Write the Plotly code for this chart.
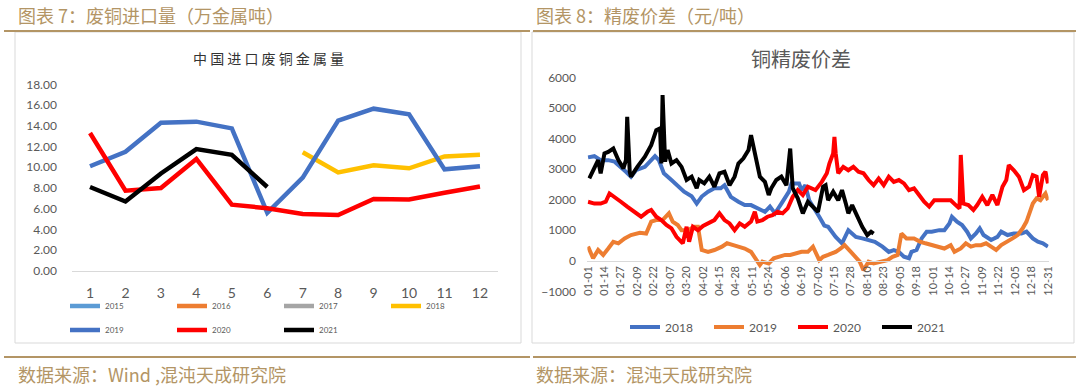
import plotly.graph_objects as go
import pandas as pd

W, H = 1080, 388

# ---------------- Left chart: 中国进口废铜金属量 (万金属吨) ----------------
months = list(range(1, 13))
imp_2015 = [None] * 12
imp_2016 = [None] * 12
imp_2017 = [None] * 12
imp_2018 = [None, None, None, None, None, None, 11.45, 9.5, 10.2, 9.9, 11.05, 11.2]
imp_2019 = [10.1, 11.5, 14.3, 14.4, 13.75, 5.6, 9.0, 14.5, 15.65, 15.1, 9.8, 10.1]
imp_2020 = [13.3, 7.75, 8.0, 10.8, 6.4, 6.05, 5.5, 5.4, 6.95, 6.9, 7.55, 8.15]
imp_2021 = [8.1, 6.7, 9.4, 11.75, 11.2, 8.1, None, None, None, None, None, None]

# ---------------- Right chart: 铜精废价差 (元/吨) ----------------
day_labels = pd.date_range("2019-01-01", "2019-12-31").strftime("%m-%d").tolist()
tick_labels = ["01-01", "01-14", "01-27", "02-09", "02-22", "03-07", "03-20", "04-02",
               "04-15", "04-28", "05-11", "05-24", "06-06", "06-19", "07-02", "07-15",
               "07-28", "08-10", "08-23", "09-05", "09-18", "10-01", "10-14", "10-27",
               "11-09", "11-22", "12-05", "12-18", "12-31"]

# day-of-year index (0 = 01-01) and spread value
days_2018 = [0, 5, 10, 16, 21, 26, 30, 34, 38, 45, 53, 56, 60, 66, 71, 76, 82, 86, 90, 95,
             100, 105, 108, 113, 119, 124, 129, 135, 140, 144, 148, 153, 159, 161, 167, 169,
             172, 175, 180, 183, 187, 190, 196, 201, 206, 212, 217, 222, 227, 233, 238, 242,
             246, 250, 254, 256, 260, 264, 268, 272, 278, 282, 286, 288, 292, 296, 300, 303,
             307, 310, 313, 319, 324, 327, 332, 337, 343, 347, 352, 356, 360, 364]
spread_2018 = [3380, 3420, 3290, 3290, 3240, 3070, 2910, 2750, 2960, 3070, 3420, 3290, 2860,
               2640, 2470, 2260, 2110, 1870, 2100, 2260, 2370, 2370, 2470, 2090, 1930, 1820,
               1820, 1710, 1600, 1770, 1550, 1870, 2260, 2530, 2530, 2310, 2470, 1980, 1660,
               1440, 1150, 1110, 780, 570, 1000, 780, 730, 680, 620, 460, 290, 350, 290, 130,
               80, 290, 350, 730, 950, 950, 1000, 1000, 1220, 1440, 1280, 1170, 950, 730, 890,
               1060, 840, 680, 780, 950, 840, 890, 890, 950, 730, 620, 570, 460]

days_2019 = [0, 4, 8, 12, 16, 20, 24, 29, 34, 41, 46, 50, 54, 59, 64, 67, 71, 74, 79, 84, 87,
             90, 95, 100, 106, 110, 115, 119, 124, 129, 133, 136, 138, 143, 147, 151, 156, 160,
             164, 169, 174, 178, 183, 186, 190, 196, 200, 203, 208, 211, 215, 218, 222, 226,
             231, 237, 241, 245, 248, 252, 258, 263, 267, 272, 278, 282, 287, 290, 295, 299,
             303, 307, 311, 315, 319, 323, 327, 332, 336, 340, 344, 347, 349, 352, 355, 358,
             361, 362, 364]
spread_2019 = [460, 80, 350, 190, 400, 620, 570, 730, 840, 915, 890, 1280, 1330, 1330, 1550,
               1280, 1170, 1000, 1000, 1110, 1110, 350, 290, 350, 460, 570, 510, 460, 400, 290,
               20, -140, -30, -90, 80, 130, 190, 190, 240, 290, 290, 460, 20, 130, 190, 290,
               400, 510, 290, 130, -30, -310, -30, -90, -30, 20, 130, 190, 890, 730, 730, 620,
               570, 510, 460, 400, 510, 290, 400, 570, 460, 510, 510, 570, 460, 350, 510, 620,
               730, 840, 1060, 1280, 1550, 1870, 2040, 1980, 2150, 2200, 1980]

days_2020 = [0, 5, 10, 14, 17, 21, 26, 31, 37, 42, 47, 50, 54, 58, 62, 66, 70, 72, 75, 78, 80,
             83, 87, 91, 95, 100, 104, 108, 112, 116, 120, 124, 129, 132, 134, 138, 142, 146,
             150, 154, 158, 162, 166, 170, 174, 180, 185, 189, 191, 194, 195, 196, 198, 202,
             206, 210, 214, 218, 222, 226, 230, 234, 238, 242, 246, 250, 254, 258, 262, 266,
             270, 274, 280, 287, 291, 294, 295, 297, 301, 305, 308, 312, 316, 320, 324, 328,
             331, 333, 337, 341, 345, 349, 352, 355, 357, 360, 362, 364]
spread_2020 = [1930, 1870, 1870, 1930, 2200, 2090, 1930, 1770, 1600, 1440, 1600, 1660, 1440,
               1330, 1170, 1060, 780, 680, 570, 1110, 620, 1110, 1000, 1140, 1220, 1330, 1550,
               1330, 1220, 1000, 1220, 1110, 1280, 1600, 1280, 1330, 1440, 1490, 1600, 1550,
               1710, 2090, 2310, 2150, 2420, 2310, 2580, 2860, 3180, 3510, 4050, 3510, 2860,
               3070, 2960, 3070, 2910, 2860, 2640, 2470, 2690, 2470, 2750, 2580, 2640, 2530,
               2310, 2370, 2150, 1930, 1770, 1980, 1980, 1980, 1820, 1710, 3460, 1870, 1820,
               1660, 1820, 2090, 1820, 2150, 1820, 2420, 2640, 3130, 2960, 2750, 2310, 2420,
               2800, 2750, 2090, 2800, 2910, 2530]

days_2021 = [1, 5, 8, 10, 13, 16, 20, 24, 28, 30, 31, 33, 34, 39, 45, 50, 54, 57, 58, 59, 61,
             63, 66, 70, 74, 78, 82, 86, 88, 92, 96, 100, 104, 108, 112, 116, 119, 123, 127,
             129, 132, 136, 140, 143, 145, 149, 153, 157, 160, 162, 166, 170, 174, 178, 182,
             186, 188, 190, 194, 198, 201, 204, 206, 209, 213, 217, 221, 224, 226]
spread_2021 = [2690, 3020, 3290, 2860, 3510, 3560, 3670, 3290, 3020, 3290, 4710, 2910, 2750,
               3070, 3400, 3780, 4270, 4330, 3180, 5420, 3240, 3620, 3180, 3290, 3070, 2640,
               2750, 2370, 2640, 2530, 2750, 2420, 2860, 2910, 2470, 2750, 3180, 3350, 3620,
               4110, 3560, 2750, 2580, 2150, 2370, 2640, 2750, 2470, 3670, 2370, 2040, 1550,
               1930, 1770, 1600, 2420, 2470, 1980, 2260, 1980, 2310, 1870, 1550, 1820, 1440,
               1110, 840, 950, 890]

# ---------------- styling ----------------
GOLD = "#B39565"
GRID = "#D9D9D9"
TXT = "#595959"
NUMFONT = "Lato, Liberation Sans, sans-serif"
CJK = "Noto Sans CJK SC"


def fx(p):
    return p / W


def fy(p):
    return 1 - p / H


fig = go.Figure()

left_series = [
    ("2015", imp_2015, "#5B9BD5", "legend"),
    ("2016", imp_2016, "#ED7D31", "legend"),
    ("2017", imp_2017, "#A5A5A5", "legend"),
    ("2018", imp_2018, "#FFC000", "legend"),
    ("2019", imp_2019, "#4472C4", "legend2"),
    ("2020", imp_2020, "#FF0000", "legend2"),
    ("2021", imp_2021, "#000000", "legend2"),
]
for name, vals, col, lg in left_series:
    fig.add_trace(go.Scatter(x=months, y=vals, mode="lines", name=name,
                             line=dict(color=col, width=4.5), xaxis="x", yaxis="y",
                             legend=lg, showlegend=True, hoverinfo="skip"))

right_series = [
    ("2018", days_2018, spread_2018, "#4472C4"),
    ("2019", days_2019, spread_2019, "#ED7D31"),
    ("2020", days_2020, spread_2020, "#FF0000"),
    ("2021", days_2021, spread_2021, "#000000"),
]
for name, dd, vals, col in right_series:
    fig.add_trace(go.Scatter(x=[day_labels[d] for d in dd], y=vals, mode="lines", name=name,
                             line=dict(color=col, width=4), xaxis="x2", yaxis="y2",
                             legend="legend3", hoverinfo="skip"))

fig.update_layout(
    width=W, height=H, autosize=False,
    margin=dict(l=0, r=0, t=0, b=0, pad=0, autoexpand=False),
    paper_bgcolor="white", plot_bgcolor="rgba(0,0,0,0)",
    showlegend=True,
    xaxis=dict(domain=[fx(72.3), fx(497.7)], range=[0.5, 12.5], tickvals=months,
               showgrid=False, zeroline=False, showline=True, linecolor=GRID, linewidth=1,
               ticks="outside", ticklen=9, tickcolor="rgba(0,0,0,0)", automargin=False,
               tickfont=dict(family=NUMFONT, size=14, color=TXT), anchor="y", fixedrange=True),
    yaxis=dict(domain=[fy(271), fy(84.3)], range=[0, 18], dtick=2, tickformat=".2f",
               showgrid=False, zeroline=False, showline=False, automargin=False,
               ticks="outside", ticklen=12, tickcolor="rgba(0,0,0,0)",
               tickfont=dict(family=NUMFONT, size=12, color=TXT), anchor="x", fixedrange=True),
    xaxis2=dict(domain=[fx(587.4), fx(1048.6)], type="category", categoryorder="array",
                categoryarray=day_labels, range=[-0.5, 364.5], tickvals=tick_labels,
                ticktext=tick_labels, tickangle=-90, automargin=False,
                showgrid=False, zeroline=False, showline=True, linecolor=GRID, linewidth=1,
                ticks="", anchor="free", position=fy(260.7),
                tickfont=dict(family=NUMFONT, size=11, color=TXT), fixedrange=True),
    yaxis2=dict(domain=[fy(291.3), fy(77.3)], range=[-1000, 6000], dtick=1000,
                showgrid=False, zeroline=False, showline=False, automargin=False,
                ticks="outside", ticklen=8, tickcolor="rgba(0,0,0,0)",
                tickfont=dict(family=NUMFONT, size=12, color=TXT), anchor="x2", fixedrange=True),
    legend=dict(orientation="h", x=fx(65), y=fy(306), xanchor="left", yanchor="middle",
                entrywidth=62, font=dict(family=NUMFONT, size=8, color=TXT),
                bgcolor="rgba(0,0,0,0)", itemclick=False, itemdoubleclick=False),
    legend2=dict(orientation="h", x=fx(65), y=fy(330), xanchor="left", yanchor="middle",
                 entrywidth=62, font=dict(family=NUMFONT, size=8, color=TXT),
                 bgcolor="rgba(0,0,0,0)", itemclick=False, itemdoubleclick=False),
    legend3=dict(orientation="h", x=fx(625), y=fy(327), xanchor="left", yanchor="middle",
                 entrywidth=39, font=dict(family=NUMFONT, size=12, color=TXT),
                 bgcolor="rgba(0,0,0,0)", itemclick=False, itemdoubleclick=False),
)

shapes = [
    # chart frames
    dict(type="rect", xref="paper", yref="paper", x0=fx(15), x1=fx(521), y0=fy(343), y1=fy(32),
         line=dict(color=GRID, width=1), layer="below"),
    dict(type="rect", xref="paper", yref="paper", x0=fx(532), x1=fx(1074), y0=fy(343), y1=fy(32),
         line=dict(color=GRID, width=1), layer="below"),
    # header / footer rules
    dict(type="line", xref="paper", yref="paper", x0=fx(4), x1=fx(530), y0=fy(31), y1=fy(31),
         line=dict(color=GOLD, width=2)),
    dict(type="line", xref="paper", yref="paper", x0=fx(533), x1=fx(1076), y0=fy(31), y1=fy(31),
         line=dict(color=GOLD, width=2)),
    dict(type="line", xref="paper", yref="paper", x0=fx(4), x1=fx(530), y0=fy(357), y1=fy(357),
         line=dict(color=GOLD, width=2)),
    dict(type="line", xref="paper", yref="paper", x0=fx(533), x1=fx(1076), y0=fy(357), y1=fy(357),
         line=dict(color=GOLD, width=2)),
]
fig.update_layout(shapes=shapes)

annos = [
    dict(text="图表 7：废铜进口量（万金属吨）", x=fx(16), y=fy(15), xanchor="left", yanchor="middle",
         font=dict(family=CJK, size=18, color=GOLD)),
    dict(text="图表 8：精废价差（元/吨）", x=fx(534), y=fy(15), xanchor="left", yanchor="middle",
         font=dict(family=CJK, size=18, color=GOLD)),
    dict(text="数据来源：Wind ,混沌天成研究院", x=fx(16), y=fy(374), xanchor="left", yanchor="middle",
         font=dict(family=CJK, size=18, color=GOLD)),
    dict(text="数据来源：混沌天成研究院", x=fx(534), y=fy(374), xanchor="left", yanchor="middle",
         font=dict(family=CJK, size=18, color=GOLD)),
    dict(text="中 国 进 口 废 铜 金 属 量", x=fx(268), y=fy(58), xanchor="center", yanchor="middle",
         font=dict(family=CJK, size=14, color="#333333")),
    dict(text="铜精废价差", x=fx(801), y=fy(58), xanchor="center", yanchor="middle",
         font=dict(family=CJK, size=20, color=TXT)),
]
for a in annos:
    a.update(xref="paper", yref="paper", showarrow=False)
fig.update_layout(annotations=annos)

fig.write_html("out.html", config={"displayModeBar": False, "staticPlot": True},
               post_script="document.body.style.margin='0';document.body.style.overflow='hidden';")
